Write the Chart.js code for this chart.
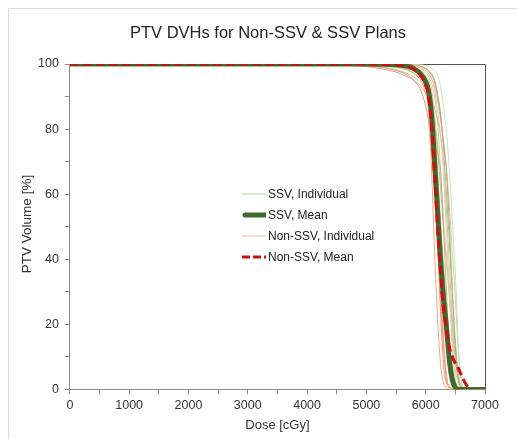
<!DOCTYPE html>
<html>
<head>
<meta charset="utf-8">
<script src="https://cdn.jsdelivr.net/npm/chart.js@4"></script>
<style>
  html, body { margin: 0; padding: 0; background: #fff; }
  #wrap { position: relative; width: 517px; height: 439px; font-family: "Liberation Sans", Arial, sans-serif; }
  #frame { position: absolute; left: 8px; top: 8px; right: 0; bottom: 0; border-left: 1px solid #dcdcdc; border-top: 1px solid #dcdcdc; }
  #title { position: absolute; left: 0; top: 22px; width: 536px; text-align: center; font-size: 16.5px; line-height: 20px; color: #222; }
  #ytitle { position: absolute; left: -73px; top: 216px; width: 200px; height: 16px; line-height: 16px; text-align: center; font-size: 13.5px; color: #333; transform: rotate(-90deg); }
  #legend { position: absolute; left: 242px; top: 183px; font-size: 12px; color: #222; }
  #legend div { height: 21px; display: flex; align-items: center; }
  #legend canvas { margin-right: 2px; }
</style>
</head>
<body>
<div id="wrap">
  <div id="frame"></div>
  <canvas id="dvh" width="517" height="439"></canvas>
  <div id="title">PTV DVHs for Non-SSV &amp; SSV Plans</div>
  <div id="ytitle">PTV Volume [%]</div>
  <div id="legend"></div>
</div>
<script>
// dose grid (cGy) shared by every curve
const doses = [0, 4000, 4500, 5000, 5500, 5700, 5800, 5900, 6000, 6050, 6100, 6150, 6200, 6250, 6300, 6350, 6400, 6450, 6500, 6550, 6600, 6650, 6700, 6750, 7000];

const ssvMean    = [100,100,100,100,99.8,99.3,98.6,97.2,94.5,91.5,84,70,55,40,28,19,9,3,0.5,0,0,0,0,0,0];
const nonSsvMean = [100,100,100,100,99.7,99.2,98.4,96.8,93.5,90,81,66,50,36,25,19,13,10,8,6.5,4.5,2.5,1,0,null];

const ssvIndividual = [
  [100,100,100,99.6,98.3,97,96,94.5,92.5,91,89,86.5,83,78,70,55,38,22,10,3,0.5,0,0,0,0],
  [100,100,100,100,100,100,99.9,99.8,99.5,99.2,98.8,98,96.5,93,87,79,67,52,36,14,3,0.3,0,0,0],
  [100,100,100,100,100,99.9,99.7,99.4,98.7,98,97,95,91,85,74,60,45,30,15,5,1,0,0,0,0],
  [100,100,100,100,99.9,99.7,99.4,98.8,97.5,96,94,90,82,68,52,40,28,16,6,1.5,0.2,0,0,0,0],
  [100,100,100,100,99.8,99.4,98.9,98,96,94,90,82,67,52,38,25,13,5,1.5,0.3,0,0,0,0,0],
  [100,100,100,99.9,99.5,98.8,98,96.5,93.5,90.5,85,76,61,46,33,22,12,5,1.5,0.3,0,0,0,0,0],
  [100,100,100,99.8,99,98,97,95.5,93,91,88,83,75,62,50,40,30,19,9,3,0.5,0,0,0,0],
  [100,100,100,100,99.9,99.7,99.5,99,98,97,95.5,93,89,83,76,68,56,42,28,12,2.5,0.3,0,0,0]
];

const nonSsvIndividual = [
  [100,100,100,99.9,99.3,98.3,97.3,95.5,91,85,67,42,22,8,2,0.5,0,0,0,0,0,0,0,0,0],
  [100,100,100,100,99.6,99,98.3,97,94.5,91.5,85,67,45,24,8,2,0.5,0,0,0,0,0,0,0,0],
  [100,100,100,100,99.8,99.4,99,98.2,96.5,95,92,84,67,45,30,13,4,1,0.2,0,0,0,0,0,0],
  [100,100,99.8,99.2,97.5,96,95,93.5,91,89,86,80,73,67,50,30,14,3.5,0.8,0,0,0,0,0,0],
  [100,100,100,100,99.9,99.7,99.5,99,98,97,95.5,92,86,78,67,48,30,13,3,0.6,0,0,0,0,0],
  [100,100,99.9,99.5,98,96.5,95,92.5,87,82,73,61,45,30,14,3.5,0.8,0,0,0,0,0,0,0,0],
  [100,100,100,100,99.7,99.2,98.6,97.5,95,92.5,88,78,58,34,16,4,1,0.2,0,0,0,0,0,0,0],
  [100,100,100,100,100,99.9,99.7,99.4,98.5,97.8,96.5,94.5,90,84,76,67,50,30,13,3,0.5,0,0,0,0]
];

const xTicks = [0, 1000, 2000, 3000, 4000, 5000, 6000, 7000];
const yTicks = [0, 20, 40, 60, 80, 100];

const greenShades = ['#a9d69e', '#c4e4ba', '#92ca86', '#b7dcab', '#a0d194', '#c9e6c0', '#9fcf93', '#b0d9a4'];
const redShades = ['#f4a582', '#ef8f6e', '#f7b79f', '#ea9a80', '#f9c0a6', '#f09078', '#f3a78e', '#e98d74'];

const toPoints = vals => doses.map((d, i) => ({ x: d, y: vals[i] }));

const datasets = [
  { label: 'Non-SSV, Mean', data: toPoints(nonSsvMean), borderColor: '#cc1010', borderWidth: 3, borderDash: [9, 4], order: 0 },
  { label: 'SSV, Mean', data: toPoints(ssvMean), borderColor: '#3e6a2c', borderWidth: 5, order: 1 },
];
nonSsvIndividual.forEach((v, i) => datasets.push({ label: 'Non-SSV, Individual', data: toPoints(v), borderColor: redShades[i], borderWidth: 1, order: 2 }));
ssvIndividual.forEach((v, i) => datasets.push({ label: 'SSV, Individual', data: toPoints(v), borderColor: greenShades[i], borderWidth: 1, order: 3 }));
datasets.forEach(d => { d.pointRadius = 0; d.cubicInterpolationMode = 'monotone'; d.fill = false; });

// box on top and right of the plot area
const boxLines = {
  id: 'boxLines',
  beforeDatasetsDraw(chart) {
    const { ctx, chartArea: a } = chart;
    ctx.save();
    ctx.strokeStyle = '#555';
    ctx.lineWidth = 1;
    ctx.beginPath();
    ctx.moveTo(a.left, a.top + 0.5);
    ctx.lineTo(a.right + 0.5, a.top + 0.5);
    ctx.lineTo(a.right + 0.5, a.bottom);
    ctx.stroke();
    ctx.restore();
  }
};

const font = { family: "'Liberation Sans', Arial, sans-serif", size: 12.5 };

new Chart(document.getElementById('dvh'), {
  type: 'line',
  data: { datasets },
  plugins: [boxLines],
  options: {
    responsive: false,
    animation: false,
    layout: { padding: { top: 64, left: 32, right: 32, bottom: 6 } },
    plugins: {
      legend: { display: false },
      tooltip: { enabled: false },
      title: { display: false }
    },
    scales: {
      x: {
        type: 'linear', min: 0, max: 7000,
        ticks: {
          stepSize: 500, autoSkip: false, maxRotation: 0, color: '#333', font, padding: 4,
          callback: v => xTicks.includes(v) ? v : ''
        },
        grid: { drawOnChartArea: false, drawTicks: true, tickLength: 5, color: '#8a8a8a' },
        border: { color: '#8a8a8a' },
        title: { display: true, text: 'Dose [cGy]', color: '#333', font: { family: font.family, size: 13 }, padding: { top: 0, bottom: 0 } }
      },
      y: {
        min: 0, max: 100,
        ticks: {
          stepSize: 10, autoSkip: false, color: '#333', font, padding: 6,
          callback: v => yTicks.includes(v) ? v : ''
        },
        grid: { drawOnChartArea: false, drawTicks: true, tickLength: 5, color: '#8a8a8a' },
        border: { color: '#8a8a8a' }
      }
    }
  }
});

// legend inside the plot
const legendItems = [
  { text: 'SSV, Individual', color: '#b5d9aa', width: 1, dash: [] },
  { text: 'SSV, Mean', color: '#3e6a2c', width: 5, dash: [] },
  { text: 'Non-SSV, Individual', color: '#f2b3a2', width: 1, dash: [] },
  { text: 'Non-SSV, Mean', color: '#cc1010', width: 3, dash: [8, 3] }
];
const legendEl = document.getElementById('legend');
legendItems.forEach(item => {
  const row = document.createElement('div');
  const c = document.createElement('canvas');
  c.width = 24; c.height = 10;
  const g = c.getContext('2d');
  g.strokeStyle = item.color; g.lineWidth = item.width; g.setLineDash(item.dash);
  g.lineCap = item.width > 3 ? 'round' : 'butt';
  g.beginPath(); g.moveTo(item.width > 3 ? 3 : 0, 5); g.lineTo(24, 5); g.stroke();
  row.appendChild(c);
  const span = document.createElement('span');
  span.textContent = item.text;
  row.appendChild(span);
  legendEl.appendChild(row);
});
</script>
</body>
</html>
